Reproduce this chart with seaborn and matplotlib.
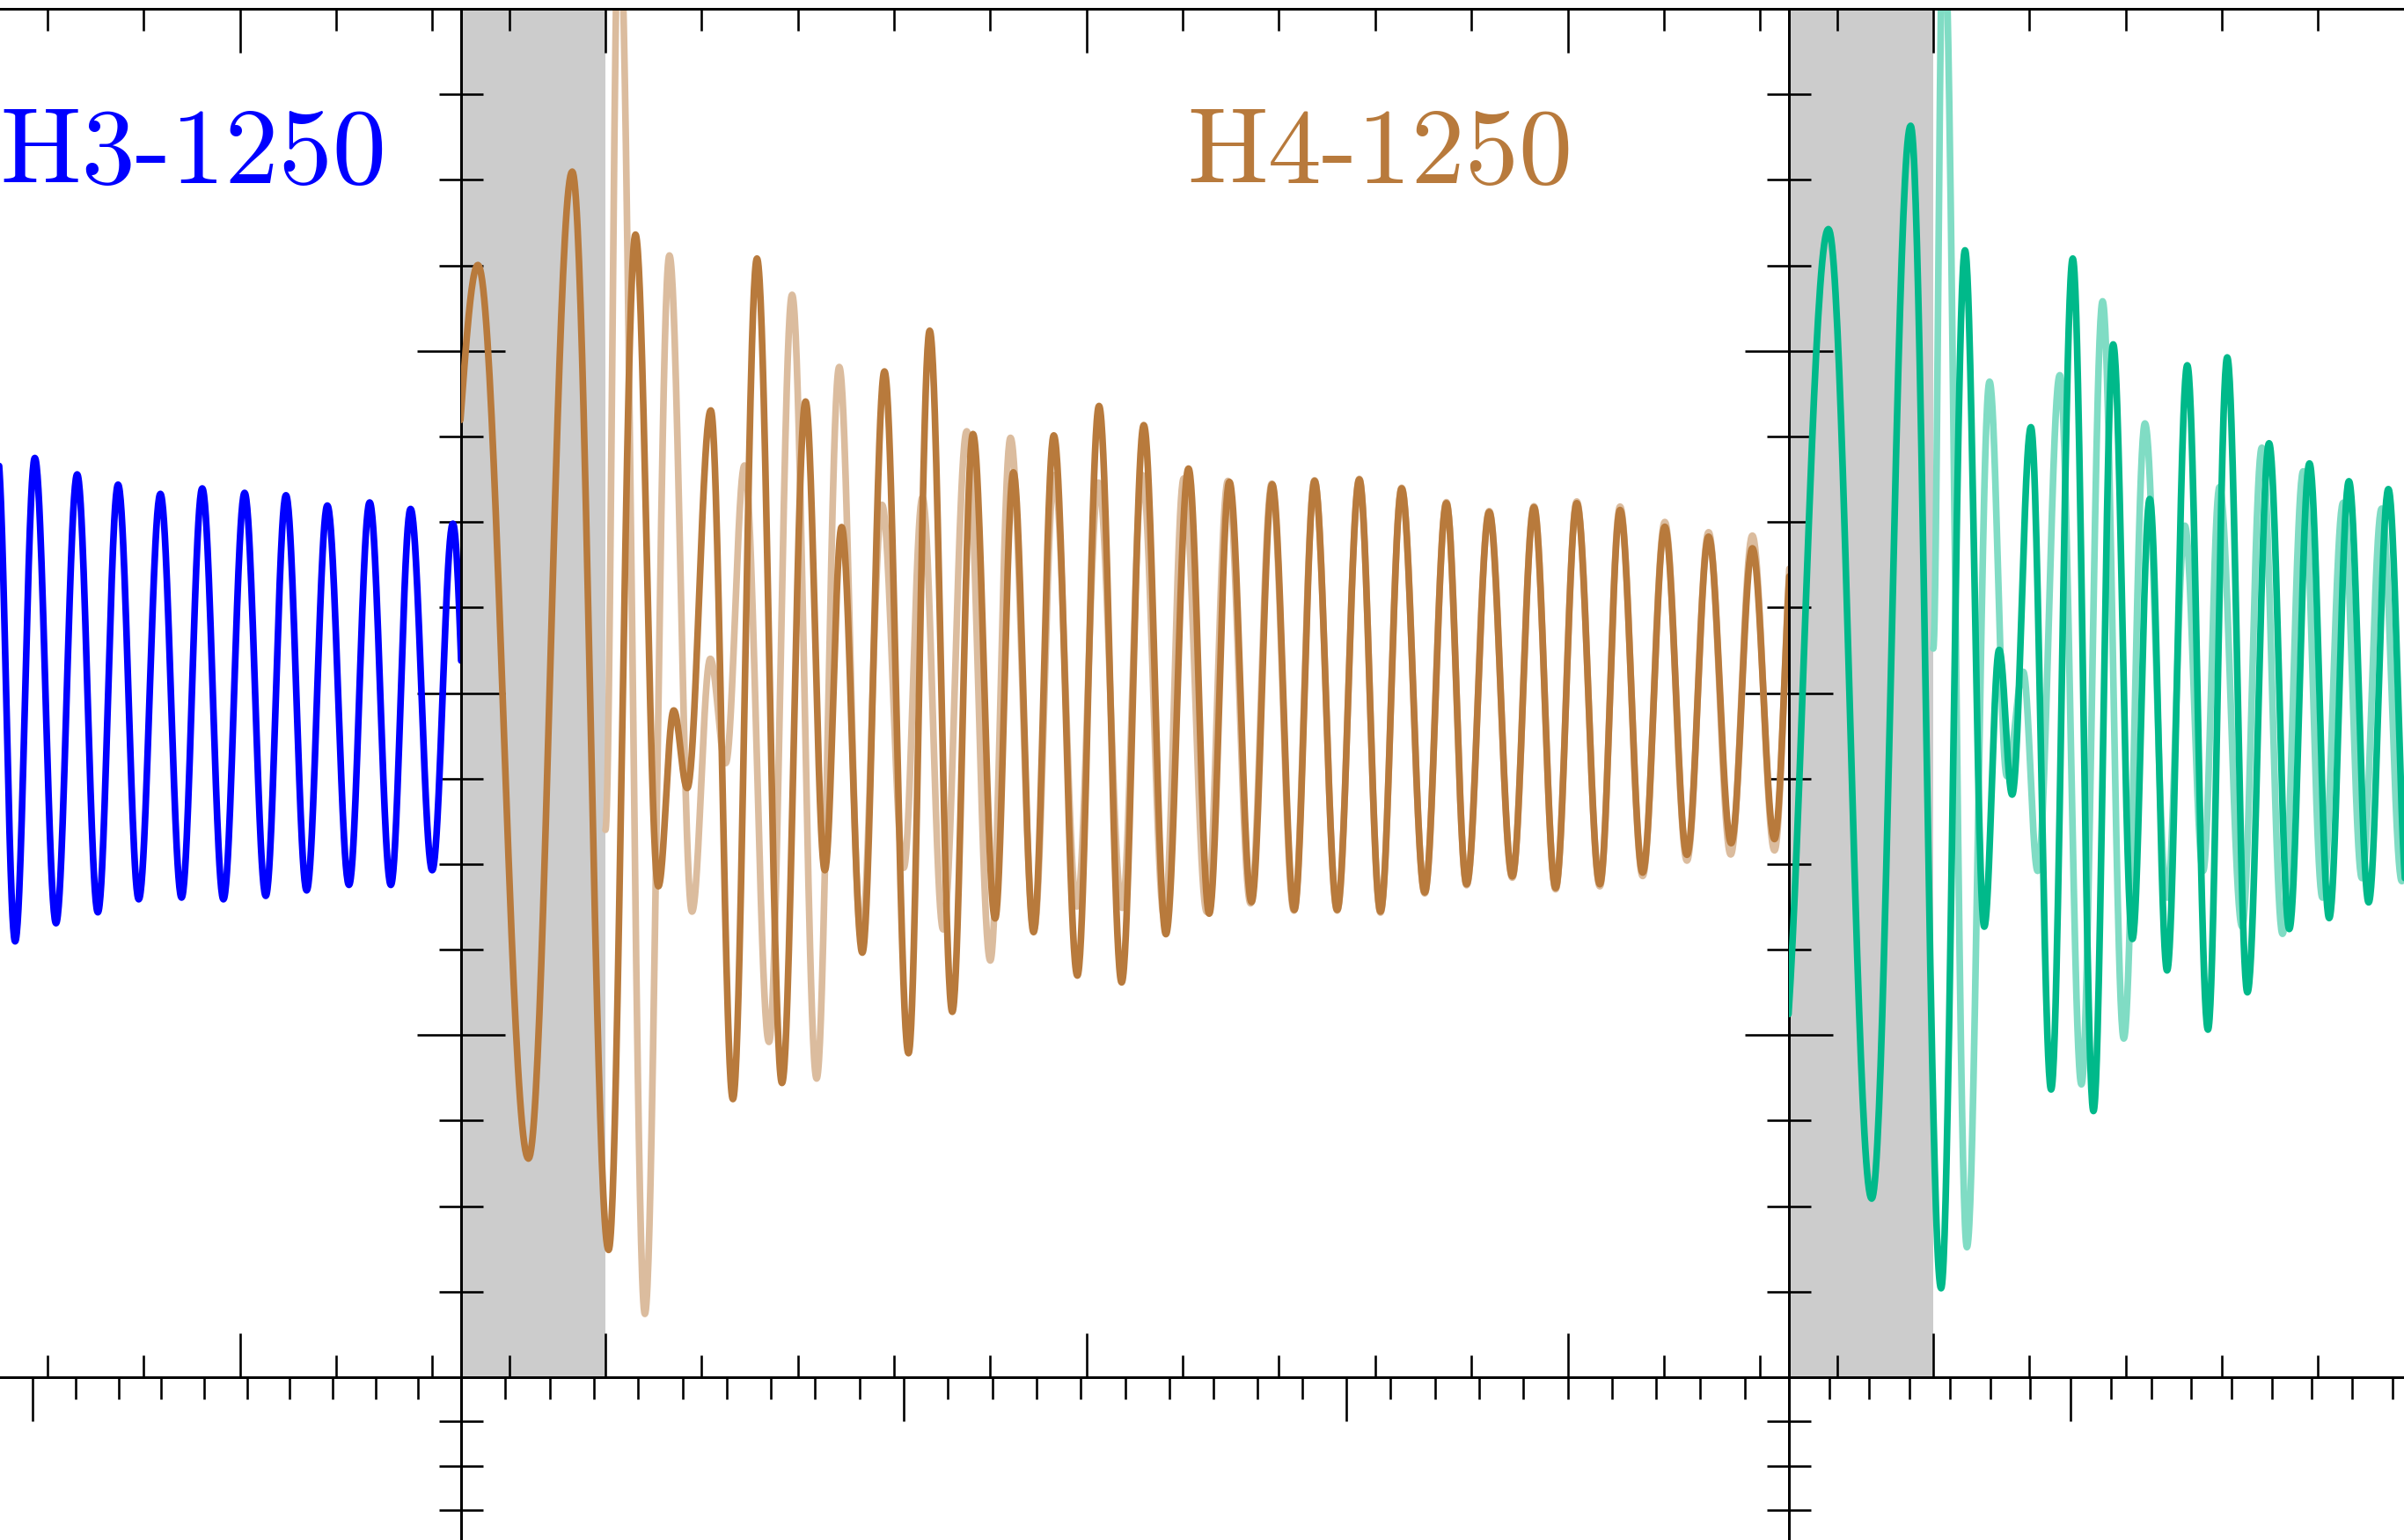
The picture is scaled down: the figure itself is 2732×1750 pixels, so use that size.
import numpy as np
import pandas as pd
import matplotlib
matplotlib.use("Agg")
import matplotlib.pyplot as plt
from matplotlib.ticker import MultipleLocator
import seaborn as sns

sns.set_style("ticks")

# ---------------------------------------------------------------------------
# Waveform turning points (time, strain) for each model
# ---------------------------------------------------------------------------
# MH3-1250 (left panel)
mh3_t = [14.50, 14.96, 15.33, 15.74, 16.18, 16.62, 17.05, 17.47, 17.90, 18.35,
         18.79, 19.22, 19.66, 20.10, 20.54, 20.96, 21.39, 21.82, 22.27, 22.70,
         23.14, 23.55, 24.00, 24.43, 24.82]
mh3_h = [-0.75, 0.70, -0.726, 0.687, -0.673, 0.639, -0.641, 0.609, -0.603, 0.582,
         -0.598, 0.598, -0.603, 0.585, -0.593, 0.578, -0.577, 0.548, -0.561, 0.557,
         -0.561, 0.538, -0.518, 0.495, -0.50]

# H4-1250 (middle panel), main resolution
h4_t = [-3.35, -2.65, -1.60, -0.69, 0.066, 0.625, 1.10, 1.42, 1.70, 2.19,
        2.65, 3.15, 3.67, 4.16, 4.56, 4.91, 5.34, 5.80, 6.30, 6.74,
        7.21, 7.64, 8.10, 8.48, 8.90, 9.32, 9.81, 10.26, 10.73, 11.19,
        11.65, 12.12, 12.55, 12.97, 13.43, 13.86, 14.32, 14.74, 15.21, 15.67,
        16.11, 16.55, 17.03, 17.48, 17.90, 18.37, 18.85, 19.30, 19.75, 20.19,
        20.67, 21.09, 21.56, 22.02, 22.48, 22.93, 23.40, 23.84, 24.30, 24.70]
h4_h = [0.40, 1.251, -1.361, 1.524, -1.628, 1.340, -0.565, -0.051, -0.278, 0.826,
        -1.187, 1.270, -1.140, 0.852, -0.518, 0.485, -0.759, 0.940, -1.053, 1.059,
        -0.932, 0.757, -0.659, 0.645, -0.699, 0.753, -0.826, 0.839, -0.846, 0.783,
        -0.705, 0.656, -0.645, 0.617, -0.611, 0.610, -0.634, 0.620, -0.634, 0.624,
        -0.639, 0.598, -0.583, 0.555, -0.559, 0.529, -0.536, 0.543, -0.570, 0.555,
        -0.559, 0.535, -0.525, 0.486, -0.473, 0.457, -0.439, 0.423, -0.427, 0.45]

# H4-1250, comparison run (starts at merger)
h4b_t = [0.00, 0.28, 0.82, 1.33, 1.80, 2.18, 2.50, 2.89, 3.40, 3.88,
         4.39, 4.86, 5.32, 5.75, 6.20, 6.59, 7.02, 7.51, 8.00, 8.42,
         8.91, 9.33, 9.80, 10.25, 10.74, 11.16, 11.62, 12.02, 12.50, 12.94,
         13.41, 13.85, 14.31, 14.74, 15.21, 15.67, 16.11, 16.55, 17.03, 17.48,
         17.90, 18.37, 18.85, 19.30, 19.75, 20.19, 20.67, 21.09, 21.56, 22.02,
         22.48, 22.93, 23.39, 23.84, 24.30, 24.70]
h4b_h = [-0.40, 2.30, -1.815, 1.279, -0.639, 0.10, -0.205, 0.665, -1.02, 1.164,
         -1.127, 0.953, -0.72, 0.55, -0.511, 0.572, -0.691, 0.765, -0.782, 0.746,
         -0.69, 0.637, -0.624, 0.615, -0.628, 0.637, -0.66, 0.627, -0.64, 0.62,
         -0.615, 0.612, -0.636, 0.622, -0.636, 0.626, -0.642, 0.600, -0.586, 0.558,
         -0.562, 0.532, -0.540, 0.546, -0.574, 0.560, -0.565, 0.545, -0.535, 0.50,
         -0.49, 0.47, -0.472, 0.46, -0.46, 0.48]

# right panel, main resolution
g_t = [-3.20, -2.18, -1.28, -0.47, 0.163, 0.66, 1.06, 1.37, 1.64, 2.03,
       2.45, 2.90, 3.33, 3.74, 4.14, 4.50, 4.86, 5.28, 5.71, 6.11,
       6.53, 6.98, 7.40, 7.82, 8.23, 8.64, 9.05, 9.46, 9.86, 10.27]
g_h = [-1.15, 1.356, -1.478, 1.658, -1.740, 1.294, -0.683, 0.126, -0.297, 0.777,
       -1.159, 1.270, -1.222, 1.019, -0.719, 0.567, -0.811, 0.958, -0.984, 0.981,
       -0.875, 0.730, -0.690, 0.671, -0.658, 0.619, -0.612, 0.596, -0.60, 0.58]

# right panel, comparison run
gb_t = [0.00, 0.21, 0.70, 1.17, 1.53, 1.87, 2.17, 2.63, 3.08, 3.52,
        3.96, 4.40, 4.86, 5.23, 5.61, 5.95, 6.42, 6.83, 7.26, 7.69,
        8.09, 8.52, 8.91, 9.32, 9.74, 10.15]
gb_h = [0.13, 2.30, -1.620, 0.910, -0.243, 0.062, -0.52, 0.929, -1.144, 1.145,
        -1.01, 0.788, -0.598, 0.489, -0.52, 0.602, -0.683, 0.717, -0.704, 0.648,
        -0.598, 0.556, -0.541, 0.539, -0.55, 0.53]

labels = ["MH3-1250", "H4-1250"]

BLUE = "#0000FF"
BROWN = "#B87A3C"
BROWN_LIGHT = "#DBBC9E"
GREEN = "#00B98A"
GREEN_LIGHT = "#80DCC4"
BAND = "#CCCCCC"


def trace(times, values, n=48):
    """Smooth oscillating trace through successive turning points."""
    ts, vs = [], []
    for i in range(len(times) - 1):
        s = np.linspace(0.0, 1.0, n, endpoint=False)
        w = 0.5 * (1.0 - np.cos(np.pi * s))
        ts.append(times[i] + (times[i + 1] - times[i]) * s)
        vs.append(values[i] + (values[i + 1] - values[i]) * w)
    ts.append([times[-1]])
    vs.append([values[-1]])
    return pd.DataFrame({"t": np.concatenate(ts), "h": np.concatenate(vs)})


# ---------------------------------------------------------------------------
# Figure layout (pixel geometry on a 2732 x 1750 canvas)
# ---------------------------------------------------------------------------
W, H = 2732, 1750
fig = plt.figure(figsize=(W / 100, H / 100), dpi=100)

PX = 100 / 72.0
spine_w = 3.0 / PX
tick_w = 2.6 / PX
lw = 7.6 / PX

row_top, row_bot = 10, 1565
panel_x = [-985, 524, 2033]
panel_w = 1509
low_h = 1006


def frac_box(x0, y_top, w, h):
    return [x0 / W, (H - y_top - h) / H, w / W, h / H]


def style(ax):
    for sp in ax.spines.values():
        sp.set_linewidth(spine_w)
        sp.set_color("black")
        sp.set_visible(True)
    ax.tick_params(which="both", direction="in", top=True, bottom=True,
                   left=True, right=True, labelbottom=False, labelleft=False,
                   labeltop=False, labelright=False, width=tick_w, color="black")
    ax.tick_params(which="major", length=50 / PX)
    ax.tick_params(which="minor", length=25 / PX)
    ax.set_xlabel("")
    ax.set_ylabel("")


def draw(ax, times, values, color, z):
    sns.lineplot(data=trace(times, values), x="t", y="h", ax=ax, color=color,
                 sort=False, estimator=None, legend=False)
    line = ax.lines[-1]
    line.set_linewidth(lw)
    line.set_zorder(z)
    line.set_solid_capstyle("round")
    line.set_solid_joinstyle("round")


upper = []
for x0 in panel_x:
    ax = fig.add_axes(frac_box(x0, row_top, panel_w, row_bot - row_top))
    ax.axvspan(-3.0, 0.0, color=BAND, lw=0, zorder=0)
    upper.append(ax)

ax_l, ax_m, ax_r = upper

draw(ax_l, mh3_t, mh3_h, BLUE, 3)
draw(ax_m, h4b_t, h4b_h, BROWN_LIGHT, 2)
draw(ax_m, h4_t, h4_h, BROWN, 3)
draw(ax_r, gb_t, gb_h, GREEN_LIGHT, 2)
draw(ax_r, g_t, g_h, GREEN, 3)

for ax in upper:
    ax.set_xlim(-3.0, 24.6)
    ax.set_ylim(-2.0, 2.0)
    ax.xaxis.set_major_locator(MultipleLocator(10))
    ax.xaxis.set_minor_locator(MultipleLocator(2))
    ax.yaxis.set_major_locator(MultipleLocator(1))
    ax.yaxis.set_minor_locator(MultipleLocator(0.25))

ax_l.text(23.05, 1.49, labels[0], color=BLUE, fontsize=88,
          family="cmr10", ha="right", va="baseline", zorder=5)
ax_m.text(12.10, 1.49, labels[1], color=BROWN, fontsize=88,
          family="cmr10", ha="left", va="baseline", zorder=5)

for ax in upper:
    style(ax)

# second row of panels (only its upper edge falls on the canvas)
low_xlims = [(-0.1, 3.0), (0.0, 3.0), (0.3, 3.6)]
for x0, xl in zip(panel_x, low_xlims):
    ax = fig.add_axes(frac_box(x0, row_bot, panel_w, low_h))
    ax.set_xlim(*xl)
    ax.set_ylim(0.0, 1.0)
    ax.xaxis.set_major_locator(MultipleLocator(1))
    ax.xaxis.set_minor_locator(MultipleLocator(0.1))
    ax.yaxis.set_major_locator(MultipleLocator(0.5))
    ax.yaxis.set_minor_locator(MultipleLocator(0.05))
    ax.set_facecolor("none")
    style(ax)

fig.savefig("out.png", dpi=100)
